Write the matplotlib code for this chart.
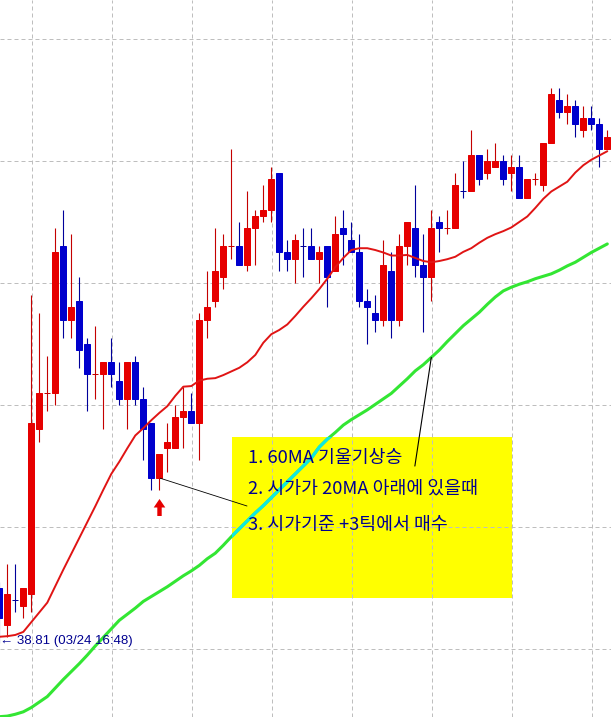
import matplotlib
matplotlib.use("Agg")
import matplotlib.pyplot as plt
import matplotlib.transforms as mtransforms
from matplotlib.patches import Rectangle
from matplotlib.path import Path
from matplotlib import font_manager

# ---------------- data ----------------
opens = [38.90, 38.84, 38.88, 38.87, 38.89, 39.16, 39.22, 39.22, 39.46, 39.34,
         39.37, 39.30, 39.25, 39.25, 39.27, 39.24, 39.21, 39.27, 39.21, 39.17,
         39.08, 39.13, 39.13, 39.18, 39.19, 39.17, 39.34, 39.37, 39.41, 39.46,
         39.46, 39.43, 39.49, 39.51, 39.52, 39.58, 39.45, 39.44, 39.46, 39.46,
         39.44, 39.46, 39.42, 39.49, 39.47, 39.45, 39.37, 39.35, 39.34, 39.42,
         39.34, 39.46, 39.49, 39.43, 39.41, 39.50, 39.49, 39.49, 39.55, 39.55,
         39.61, 39.58, 39.59, 39.60, 39.58, 39.59, 39.54, 39.57, 39.56, 39.63,
         39.70, 39.68, 39.69, 39.65, 39.67, 39.66, 39.62]
highs = [38.91, 38.94, 38.94, 38.90, 39.38, 39.35, 39.28, 39.49, 39.52, 39.48,
         39.41, 39.31, 39.33, 39.27, 39.31, 39.27, 39.27, 39.28, 39.23, 39.17,
         39.12, 39.17, 39.20, 39.23, 39.22, 39.35, 39.42, 39.49, 39.48, 39.62,
         39.50, 39.55, 39.52, 39.56, 39.59, 39.58, 39.47, 39.48, 39.49, 39.49,
         39.46, 39.46, 39.51, 39.52, 39.50, 39.48, 39.39, 39.38, 39.47, 39.45,
         39.48, 39.50, 39.56, 39.48, 39.52, 39.51, 39.52, 39.58, 39.60, 39.65,
         39.61, 39.62, 39.63, 39.61, 39.61, 39.61, 39.57, 39.58, 39.63, 39.72,
         39.72, 39.71, 39.70, 39.69, 39.69, 39.67, 39.65]
lows = [38.81, 38.82, 38.86, 38.85, 38.86, 39.14, 39.19, 39.20, 39.31, 39.31,
        39.26, 39.19, 39.21, 39.16, 39.23, 39.20, 39.16, 39.20, 39.11, 39.06,
        39.06, 39.09, 39.13, 39.13, 39.17, 39.11, 39.31, 39.36, 39.39, 39.44,
        39.43, 39.42, 39.43, 39.50, 39.50, 39.42, 39.42, 39.40, 39.41, 39.44,
        39.40, 39.36, 39.42, 39.43, 39.45, 39.36, 39.30, 39.32, 39.33, 39.31,
        39.33, 39.43, 39.41, 39.32, 39.37, 39.45, 39.48, 39.49, 39.54, 39.55,
        39.56, 39.57, 39.59, 39.56, 39.55, 39.54, 39.54, 39.56, 39.55, 39.63,
        39.67, 39.66, 39.64, 39.64, 39.65, 39.59, 39.62]
closes = [38.85, 38.89, 38.88, 38.90, 39.17, 39.22, 39.22, 39.45, 39.34, 39.36,
          39.29, 39.25, 39.25, 39.27, 39.25, 39.21, 39.27, 39.21, 39.16, 39.08,
          39.12, 39.14, 39.18, 39.19, 39.17, 39.34, 39.36, 39.42, 39.46, 39.46,
          39.43, 39.49, 39.51, 39.52, 39.57, 39.45, 39.44, 39.47, 39.46, 39.44,
          39.45, 39.41, 39.48, 39.48, 39.45, 39.37, 39.36, 39.34, 39.43, 39.34,
          39.46, 39.50, 39.43, 39.41, 39.49, 39.49, 39.49, 39.56, 39.55, 39.61,
          39.57, 39.60, 39.60, 39.57, 39.59, 39.54, 39.57, 39.57, 39.63, 39.71,
          39.68, 39.69, 39.66, 39.67, 39.66, 39.62, 39.64]
ma20 = [38.820, 38.821, 38.823, 38.828, 38.844, 38.860, 38.876, 38.903, 38.930, 38.956,
        38.982, 39.008, 39.034, 39.061, 39.087, 39.107, 39.129, 39.150, 39.162, 39.175,
        39.187, 39.198, 39.215, 39.230, 39.231, 39.240, 39.243, 39.244, 39.249, 39.255,
        39.261, 39.270, 39.282, 39.302, 39.316, 39.323, 39.332, 39.346, 39.361, 39.375,
        39.390, 39.407, 39.426, 39.441, 39.454, 39.457, 39.457, 39.454, 39.450, 39.445,
        39.445, 39.446, 39.441, 39.436, 39.434, 39.436, 39.439, 39.443, 39.451, 39.457,
        39.466, 39.474, 39.480, 39.485, 39.491, 39.500, 39.509, 39.523, 39.538, 39.550,
        39.558, 39.566, 39.581, 39.593, 39.602, 39.609, 39.616]
ma60 = [38.689, 38.690, 38.693, 38.697, 38.704, 38.713, 38.722, 38.736, 38.750, 38.763,
        38.776, 38.790, 38.805, 38.819, 38.833, 38.847, 38.857, 38.867, 38.878, 38.886,
        38.894, 38.902, 38.911, 38.920, 38.928, 38.937, 38.948, 38.957, 38.970, 38.984,
        38.997, 39.010, 39.023, 39.035, 39.048, 39.061, 39.074, 39.087, 39.100, 39.113,
        39.131, 39.144, 39.155, 39.167, 39.176, 39.184, 39.192, 39.201, 39.210, 39.219,
        39.231, 39.243, 39.256, 39.266, 39.278, 39.290, 39.304, 39.317, 39.330, 39.341,
        39.352, 39.365, 39.377, 39.387, 39.393, 39.398, 39.402, 39.407, 39.411, 39.415,
        39.421, 39.428, 39.434, 39.442, 39.450, 39.457, 39.464]
grid_prices = [38.8, 39.0, 39.2, 39.4, 39.6, 39.8]
grid_bars = [4, 14, 24, 34, 44, 54, 64, 74]
note_lines = ["1. 60MA 기울기상승",
              "2. 시가가 20MA 아래에 있을때",
              "3. 시가기준 +3틱에서 매수"]
low_stamp = "03/24 16:48"
signal_bar = 20
slope_bar = 54

# ---------------- styling ----------------
RED, RED_W = "#E60000", "#C40000"
BLUE, BLUE_W = "#0000CD", "#00009A"
NAVY = "#000090"

names = {f.name for f in font_manager.fontManager.ttflist}
narrow = "Liberation Sans Narrow" if "Liberation Sans Narrow" in names else "Liberation Sans"

fig = plt.figure(figsize=(6.11, 7.17), dpi=100)
ax = fig.add_axes([0, 0, 1, 1])
ax.set_xlim(0.0875, 76.4625)
ax.set_ylim(38.6885, 39.8639)
ax.axis("off")

# yellow note box (under the grid)
box = Rectangle((0.379, 0.1656), 0.4586, 0.2254, transform=ax.transAxes,
                facecolor="#FFFF00", edgecolor="none", zorder=0.5)
ax.add_patch(box)

# dashed grid
for p in grid_prices:
    ax.axhline(p, color="#BEBEBE", lw=0.72, ls=(0, (4, 3)), zorder=1)
for b in grid_bars:
    ax.axvline(b + 0.05, color="#BEBEBE", lw=0.72, ls=(0, (4, 3)), zorder=1)

# candles
n = len(opens)
for i in range(n):
    o, h, l, c = opens[i], highs[i], lows[i], closes[i]
    if c > o:
        up = True
    elif c < o:
        up = False
    else:
        up = i == 0 or c >= closes[i - 1]
    bc, wc = (RED, RED_W) if up else (BLUE, BLUE_W)
    ax.vlines(i, l, h, color=wc, lw=0.8, zorder=2)
    ax.add_patch(Rectangle((i - 0.37, min(o, c)), 0.74, abs(c - o),
                           facecolor=bc, edgecolor=bc if c != o else wc,
                           lw=0.72, zorder=2.5))

idx = list(range(n))
ax.plot(idx, ma20, color="#E01414", lw=1.4, zorder=3, solid_capstyle="round")
ax.plot(idx, ma60, color="#33E633", lw=2.2, zorder=3, solid_capstyle="round")
cyan, = ax.plot(idx, ma60, color="#10E8E0", lw=2.3, zorder=3.1)
cyan.set_clip_path(box)

# note text
for line, yf in zip(note_lines, [0.3612, 0.3180, 0.2678]):
    ax.text(0.406, yf, line, transform=ax.transAxes, fontsize=13.2, color=NAVY,
            family=["Noto Sans CJK KR", "DejaVu Sans"], ha="left", va="center", zorder=5)

# connector lines
ax.annotate("", xy=(slope_bar, ma60[slope_bar]), xytext=(0.679, 0.350),
            textcoords="axes fraction",
            arrowprops=dict(arrowstyle="-", color="black", lw=0.8, shrinkA=0, shrinkB=0),
            zorder=4)
ax.annotate("", xy=(signal_bar + 0.1, opens[signal_bar]), xytext=(247 / 611, 1 - 506 / 717),
            textcoords="axes fraction",
            arrowprops=dict(arrowstyle="-", color="black", lw=0.6, shrinkA=0, shrinkB=0),
            zorder=4)

# red up arrow under the signal bar
arrow = Path([(0, 8.5), (5.8, 0), (2.2, 0), (2.2, -8.5), (-2.2, -8.5),
              (-2.2, 0), (-5.8, 0), (0, 8.5)], closed=True)
trans = mtransforms.offset_copy(ax.transData, fig=fig, x=0, y=-16.7, units="dots")
ax.plot([signal_bar], [lows[signal_bar]], marker=arrow, ms=12.24, mew=0,
        color="#E60000", linestyle="none", transform=trans, zorder=4)

# low-price marker text
blend = mtransforms.blended_transform_factory(ax.transAxes, ax.transData)
ax.text(0.0, lows[0] + 0.003, f"\u2190 {lows[0]:.2f} ({low_stamp})", transform=blend,
        fontsize=9.5, color=NAVY, family=[narrow, "DejaVu Sans"],
        ha="left", va="center", zorder=5)

fig.savefig("out.png", dpi=100)
